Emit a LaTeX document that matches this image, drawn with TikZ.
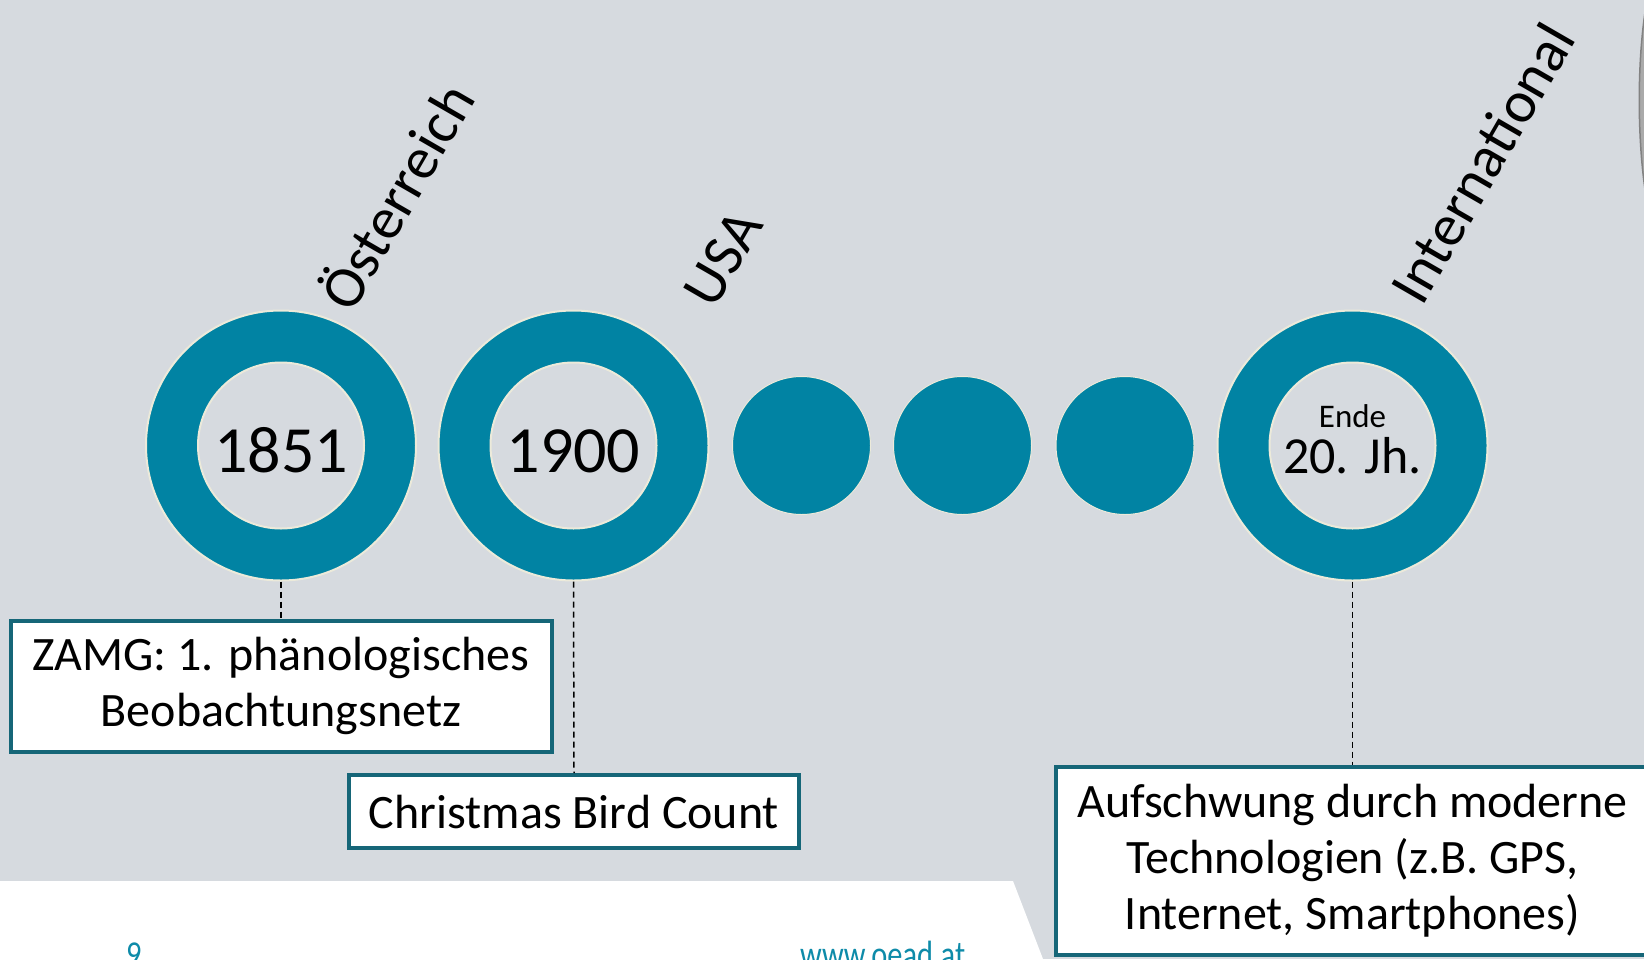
\documentclass[tikz,border=0pt]{standalone}
\usepackage{fontspec}
\setmainfont{Carlito}
\definecolor{bggrey}{RGB}{214,218,223}
\definecolor{tealfill}{RGB}{1,131,163}
\definecolor{boxteal}{RGB}{22,102,120}
\definecolor{cream}{RGB}{236,234,218}
\definecolor{foot}{RGB}{14,139,169}
\begin{document}
\begin{tikzpicture}[x=1pt,y=-1pt,
  ring/.style={circle, fill=tealfill, draw=cream, line width=2pt, minimum size=270pt, inner sep=0pt},
  hole/.style={circle, fill=bggrey, draw=cream, line width=2pt, minimum size=166pt, inner sep=0pt},
  bead/.style={circle, fill=tealfill, draw=cream, line width=1pt, minimum size=138pt, inner sep=0pt},
  infobox/.style={draw=boxteal, line width=4pt, fill=white, align=center, inner sep=0pt, font=\fontsize{48}{56}\selectfont},
  tag/.style={rotate=60, font=\fontsize{59}{64}\selectfont, inner sep=0pt},
  year/.style={anchor=base, inner sep=0pt, font=\fontsize{66}{70}\selectfont},
  conn/.style={black, line width=1.5pt, dash pattern=on 6pt off 4pt},
  footer/.style={anchor=base west, inner sep=0pt, text=foot, font=\fontsize{38}{40}\selectfont}
]
\useasboundingbox (0,0) rectangle (1644,959);
\clip (0,0) rectangle (1644,959);
% background
\fill[bggrey] (0,0) rectangle (1644,959);
\fill[white] (0,881) -- (1013,881) -- (1043,959) -- (0,959) -- cycle;
% photo edge at right
\path[fill={rgb,255:red,170;green,170;blue,170}, draw={rgb,255:red,130;green,130;blue,130}, line width=1.5pt]
  (1646,6) .. controls (1637,60) and (1637,140) .. (1646,196) -- cycle;

% rings
\node[ring] (r1) at (281,445.5) {};
\node[hole] (h1) at (281,445.5) {};
\node[ring] (r2) at (573.5,445.5) {};
\node[hole] (h2) at (573.5,445.5) {};
\node[bead] (b1) at (801.5,445.5) {};
\node[bead] (b2) at (962.5,445.5) {};
\node[bead] (b3) at (1125,445.5) {};
\node[ring] (r3) at (1352.5,445.5) {};
\node[hole] (h3) at (1352.5,445.5) {};

% year labels
\node[year] (y1) at (281,472) {1851};
\node[year] (y2) at (573.5,472) {1900};
\node[anchor=base, inner sep=0pt, font=\fontsize{33}{36}\selectfont] (ende) at (1352.5,427) {Ende};
\node[anchor=base, inner sep=0pt, font=\fontsize{52}{56}\selectfont] (jh) at (1352.5,473) {20. Jh.};

% rotated region labels
\node[tag] (t1) at (394,195) {Österreich};
\node[tag] (t2) at (723,258) {USA};
\node[tag] (t3) at (1482,163) {International};

% boxes
\node[infobox, minimum width=541pt, minimum height=131pt] (box1) at (281,686) {ZAMG: 1. phänologisches\\Beobachtungsnetz};
\node[infobox, minimum width=450pt, minimum height=73pt] (box2) at (574,811.5) {Christmas Bird Count};
\node[infobox, minimum width=593pt, minimum height=188pt] (box3) at (1352.5,861) {Aufschwung durch moderne\\Technologien (z.B. GPS,\\Internet, Smartphones)};

% connectors
\draw[conn] (r1.south) -- (box1.north);
\draw[conn] (r2.south) -- (box2.north);
\draw[conn] (r3.south) -- (box3.north);

% footer
\node[footer] (pg) at (126,967) {\scalebox{0.8}[1]{9}};
\node[footer] (url) at (800,967) {\scalebox{0.8}[1]{www.oead.at}};
\end{tikzpicture}
\end{document}
